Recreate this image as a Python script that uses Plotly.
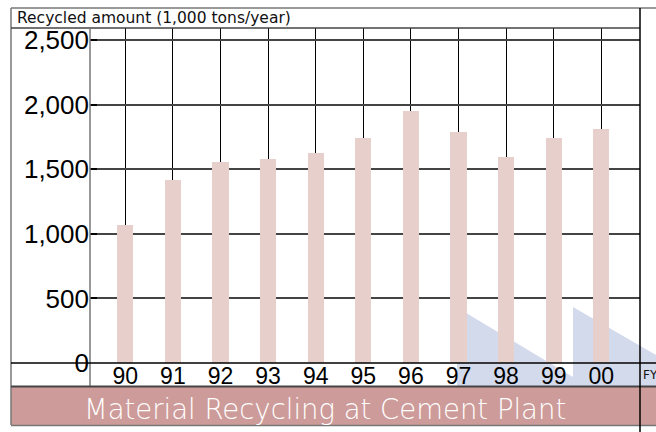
import plotly.graph_objects as go

# ---- data ----
years = ["90", "91", "92", "93", "94", "95", "96", "97", "98", "99", "00"]
recycled = [1066, 1416, 1556, 1579, 1628, 1741, 1948, 1790, 1592, 1741, 1811]
y_ticks = [0, 500, 1000, 1500, 2000, 2500]
y_tick_text = ["0", "500", "1,000", "1,500", "2,000", "2,500"]
y_title = "Recycled amount (1,000 tons/year)"
x_unit = "FY"
banner = "Material Recycling at Cement Plant"

W, H = 656, 432
L, R, T, B = 90, 640, 28, 363  # plot area in pixels


def px(x):
    return (x - L) / (R - L)


def py(y):
    return (B - y) / (B - T)


BAR = "#E7D0CB"
BLUE = "#D3DAEC"
BAND = "#CD9B99"
FONT = "Liberation Sans, Arial, sans-serif"
FONT2 = "DejaVu Sans, sans-serif"

fig = go.Figure()
fig.add_trace(go.Bar(
    x=list(range(len(years))), y=recycled, width=0.337,
    marker=dict(color=BAR, line=dict(width=0)),
    hoverinfo="skip",
))

shapes = []


def line(x0, y0, x1, y1, color="#555", width=1.5, layer="above"):
    shapes.append(dict(type="line", xref="paper", yref="paper",
                       x0=px(x0), y0=py(y0), x1=px(x1), y1=py(y1),
                       line=dict(color=color, width=width), layer=layer))


def poly(pts, color):
    d = "M " + " L ".join(f"{px(a):.5f},{py(b):.5f}" for a, b in pts) + " Z"
    shapes.append(dict(type="path", xref="paper", yref="paper", path=d,
                       fillcolor=color, line=dict(width=0), layer="below"))


# decorative background arrows
poly([(457, 307.5), (573, 377), (573, 386), (457, 386)], BLUE)
poly([(573, 307), (656, 355), (656, 386), (573, 386)], BLUE)

# banner band
shapes.append(dict(type="rect", xref="paper", yref="paper",
                   x0=px(11), x1=px(656), y0=py(387), y1=py(425),
                   fillcolor=BAND, line=dict(width=0), layer="above"))

# frame lines
line(11, 8, 656, 8, "#777", 1.5)
line(11, 8, 11, 425, "#777", 1.5)
line(11, 28, 640, 28, "#444", 1.5)
line(90, 28, 90, 386, "#777", 1.5)
line(11, 363, 656, 363, "#000", 1.5)
line(11, 386.5, 656, 386.5, "#444", 2)
line(11, 425.5, 656, 425.5, "#777", 1.5)
line(640, 8, 640, 432, "#000", 1.5)

annotations = [
    dict(text=y_title, x=px(15), y=py(18), xref="paper", yref="paper",
         xanchor="left", yanchor="middle", showarrow=False,
         font=dict(family=FONT2, size=15.5, color="#111")),
    dict(text=x_unit, x=px(640.5), y=py(375), xref="paper", yref="paper",
         xanchor="left", yanchor="middle", showarrow=False,
         font=dict(family=FONT2, size=12, color="#111")),
    dict(text=banner, x=px(325), y=py(409), xref="paper", yref="paper",
         xanchor="center", yanchor="middle", showarrow=False,
         font=dict(family=FONT2, size=27.5, color="white", weight=300)),
]

fig.update_layout(
    width=W, height=H,
    margin=dict(l=L, r=W - R, t=T, b=H - B, pad=0),
    paper_bgcolor="white", plot_bgcolor="rgba(0,0,0,0)",
    showlegend=False, bargap=0,
    shapes=shapes, annotations=annotations,
    xaxis=dict(
        range=[(L - 125.3) / 47.6, (R - 125.3) / 47.6],
        tickvals=list(range(len(years))), ticktext=years,
        ticks="", showgrid=True, gridcolor="#000", gridwidth=1,
        zeroline=False, showline=False, fixedrange=True,
        tickfont=dict(family=FONT, size=23, color="#000"),
        ticklabelstandoff=-3,
    ),
    yaxis=dict(
        range=[0, (B - T) / 0.1292],
        tickvals=y_ticks, ticktext=y_tick_text,
        ticks="inside", ticklen=7, tickwidth=2, tickcolor="#000",
        showgrid=True, gridcolor="#444", gridwidth=1.5,
        zeroline=False, showline=False, fixedrange=True,
        tickfont=dict(family=FONT, size=26, color="#000"),
    ),
)

fig.write_html("out.html", config={"displayModeBar": False},
               post_script="document.body.style.margin='0px';document.body.style.overflow='hidden';")
